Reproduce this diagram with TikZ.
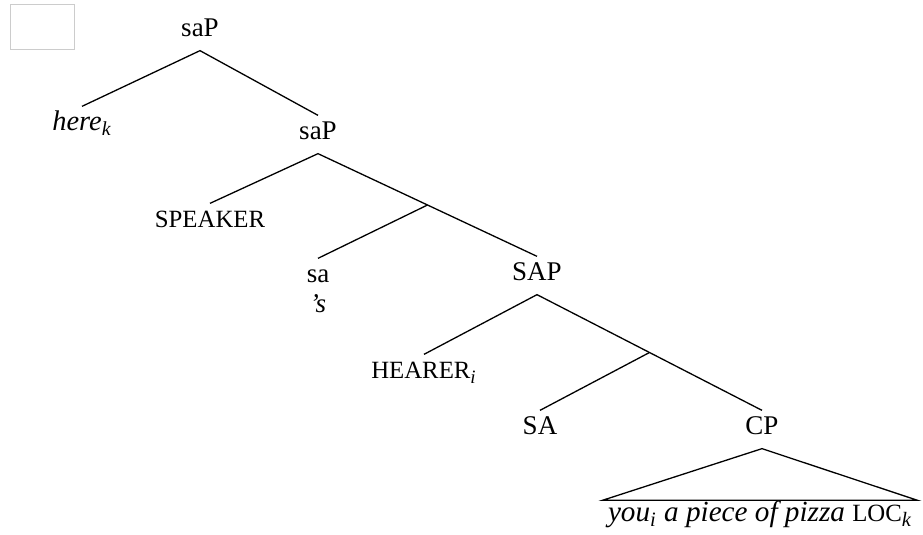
\documentclass[tikz,border=0pt]{standalone}
\usepackage{fontspec}
\setmainfont{Liberation Serif}
\usetikzlibrary{calc}
\newcommand{\smc}[1]{{\upshape\fontsize{12.4}{14}\selectfont #1}}
\newcommand{\sbs}[1]{\textsubscript{\itshape #1}}

\begin{document}
\begin{tikzpicture}[x=0.5pt, y=-0.5pt, line width=0.65pt,
  lab/.style={inner sep=0pt, anchor=base, text height=12pt, text depth=6.5pt,
    font=\fontsize{13.5}{16}\selectfont}]
\useasboundingbox (0,0) rectangle (923,535);

\draw[gray!40, line width=0.5pt] (10,5) rectangle (74,50);

\node[lab] (saPtop) at (200,37) {saP};
\node[lab] (here) at (82,131) {\fontsize{14.2}{16}\selectfont\itshape here\sbs{k}};
\node[lab] (saP) at (318,140) {saP};
\node[lab] (speaker) at (210,228) {\smc{SPEAKER}};
\node[lab] (sa) at (318,283) {sa};
\node[lab] (poss) at ($(sa.base)+(0,30)$) {\itshape 's};
\node[lab] (SAP) at (537,281) {SAP};
\node[lab] (hearer) at (424,379) {\smc{HEARER}\sbs{i}};
\node[lab] (SA) at (540,435) {SA};
\node[lab] (CP) at (762,435) {CP};
\node[lab, text height=10.5pt, inner xsep=2.5pt] (yield) at (760,522)
  {\fontsize{14.6}{16}\selectfont\itshape you\sbs{i} a piece of pizza \smc{LOC}\sbs{k}};

\coordinate (saPbar) at ($(saP.south)!0.5!(SAP.north)$);
\coordinate (SAPbar) at ($(SAP.south)!0.5!(CP.north)$);

\draw (here.north) -- (saPtop.south) -- (saP.north);
\draw (speaker.north) -- (saP.south) -- (saPbar) -- (SAP.north);
\draw (sa.north) -- (saPbar);
\draw (hearer.north) -- (SAP.south) -- (SAPbar) -- (CP.north);
\draw (SA.north) -- (SAPbar);
\draw (CP.south) -- (yield.north west) -- (yield.north east) -- cycle;

\end{tikzpicture}
\end{document}
